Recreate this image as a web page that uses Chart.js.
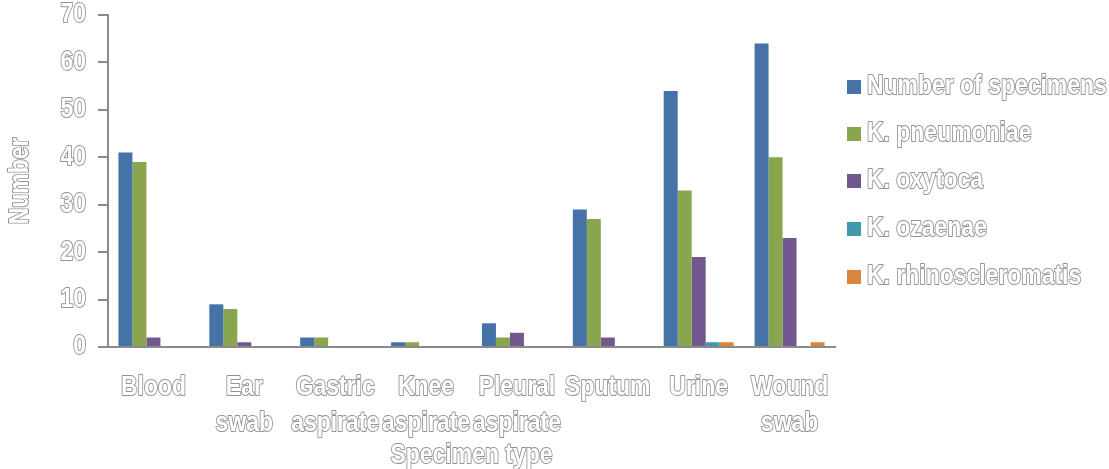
<!DOCTYPE html>
<html>
<head>
<meta charset="utf-8">
<title>Klebsiella isolates by specimen type</title>
<script src="https://cdn.jsdelivr.net/npm/chart.js@4/dist/chart.umd.min.js"></script>
<style>
  html, body { margin: 0; padding: 0; background: #ffffff; }
  #wrap { width: 1109px; height: 469px; }
</style>
</head>
<body>
<div id="wrap"><canvas id="chart" width="1109" height="469"></canvas></div>
<script>
// Specimen types (multi-line labels) and counts per series
const categories = [
  ['Blood'], ['Ear', 'swab'], ['Gastric', 'aspirate'], ['Knee', 'aspirate'],
  ['Pleural', 'aspirate'], ['Sputum'], ['Urine'], ['Wound', 'swab']
];
const numberOfSpecimens = [41, 9, 2, 1, 5, 29, 54, 64];
const kPneumoniae       = [39, 8, 2, 1, 2, 27, 33, 40];
const kOxytoca          = [2, 1, 0, 0, 3, 2, 19, 23];
const kOzaenae          = [0, 0, 0, 0, 0, 0, 1, 0];
const kRhinoscleromatis = [0, 0, 0, 0, 0, 0, 1, 1];

const seriesNames = ['Number of specimens', 'K. pneumoniae', 'K. oxytoca', 'K. ozaenae', 'K. rhinoscleromatis'];
const seriesColors = ['#4572A7', '#89A54E', '#71588F', '#4198AF', '#DB843D'];
const yTitle = 'Number';
const xTitle = 'Specimen type';

const FONT_FAMILY = "'Liberation Sans', Arial, sans-serif";
const FONT_SIZE = 27;
const SQUEEZE = 0.85;          // horizontal compression for a narrow face
const TEXT_FILL = '#ffffff';
const TEXT_STROKE = '#939393';
const AXIS_GREY = '#8a8a8a';

// Outlined, horizontally condensed text
function outlinedText(ctx, text, x, y, align, rotate) {
  ctx.save();
  ctx.font = 'bold ' + FONT_SIZE + 'px ' + FONT_FAMILY;
  ctx.textAlign = align || 'left';
  ctx.textBaseline = 'middle';
  ctx.lineJoin = 'round';
  ctx.translate(x, y);
  if (rotate) ctx.rotate(rotate);
  ctx.scale(SQUEEZE, 1);
  ctx.lineWidth = 2;
  ctx.strokeStyle = TEXT_STROKE;
  ctx.strokeText(text, 0, 0);
  ctx.fillStyle = TEXT_FILL;
  ctx.fillText(text, 0, 0);
  ctx.restore();
}

// Tick labels, axis titles and the legend on the right
const textLayer = {
  id: 'textLayer',
  afterDraw(chart) {
    const ctx = chart.ctx;
    const area = chart.chartArea;
    const xs = chart.scales.x;
    const ys = chart.scales.y;

    ys.ticks.forEach(t => {
      outlinedText(ctx, String(t.value), 86, ys.getPixelForValue(t.value), 'right');
    });

    chart.data.labels.forEach((lines, i) => {
      const cx = xs.getPixelForTick(i);
      lines.forEach((line, j) => {
        outlinedText(ctx, line, cx, xs.top + 41 + j * 36, 'center');
      });
    });

    outlinedText(ctx, yTitle, 21, (area.top + area.bottom) / 2, 'center', -Math.PI / 2);
    outlinedText(ctx, xTitle, (area.left + area.right) / 2, 456, 'center');

    const rowY = [87, 134, 181, 229, 277];
    chart.data.datasets.forEach((ds, i) => {
      ctx.save();
      ctx.fillStyle = ds.backgroundColor;
      ctx.fillRect(847, rowY[i] - 7, 14, 14);
      ctx.restore();
      outlinedText(ctx, ds.label, 867, rowY[i], 'left');
    });
  }
};

new Chart(document.getElementById('chart'), {
  type: 'bar',
  data: {
    labels: categories,
    datasets: [numberOfSpecimens, kPneumoniae, kOxytoca, kOzaenae, kRhinoscleromatis].map((vals, i) => ({
      label: seriesNames[i],
      data: vals,
      backgroundColor: seriesColors[i],
      borderWidth: 0,
      barPercentage: 1.0,
      categoryPercentage: 0.77
    }))
  },
  options: {
    responsive: false,
    animation: false,
    layout: { padding: { left: 0, right: 274, top: 15, bottom: 0 } },
    plugins: {
      legend: { display: false },
      tooltip: { enabled: false }
    },
    scales: {
      x: {
        grid: { display: false, drawTicks: false },
        border: { display: true, color: AXIS_GREY, width: 2 },
        ticks: { display: false },
        afterFit(scale) { scale.height = 122; }
      },
      y: {
        min: 0,
        max: 70,
        grid: { display: true, drawOnChartArea: false, drawTicks: true, tickLength: 10, color: AXIS_GREY, lineWidth: 2 },
        border: { display: true, color: AXIS_GREY, width: 2 },
        ticks: { display: false, stepSize: 10 },
        afterFit(scale) { scale.width = 108; }
      }
    }
  },
  plugins: [textLayer]
});
</script>
</body>
</html>
